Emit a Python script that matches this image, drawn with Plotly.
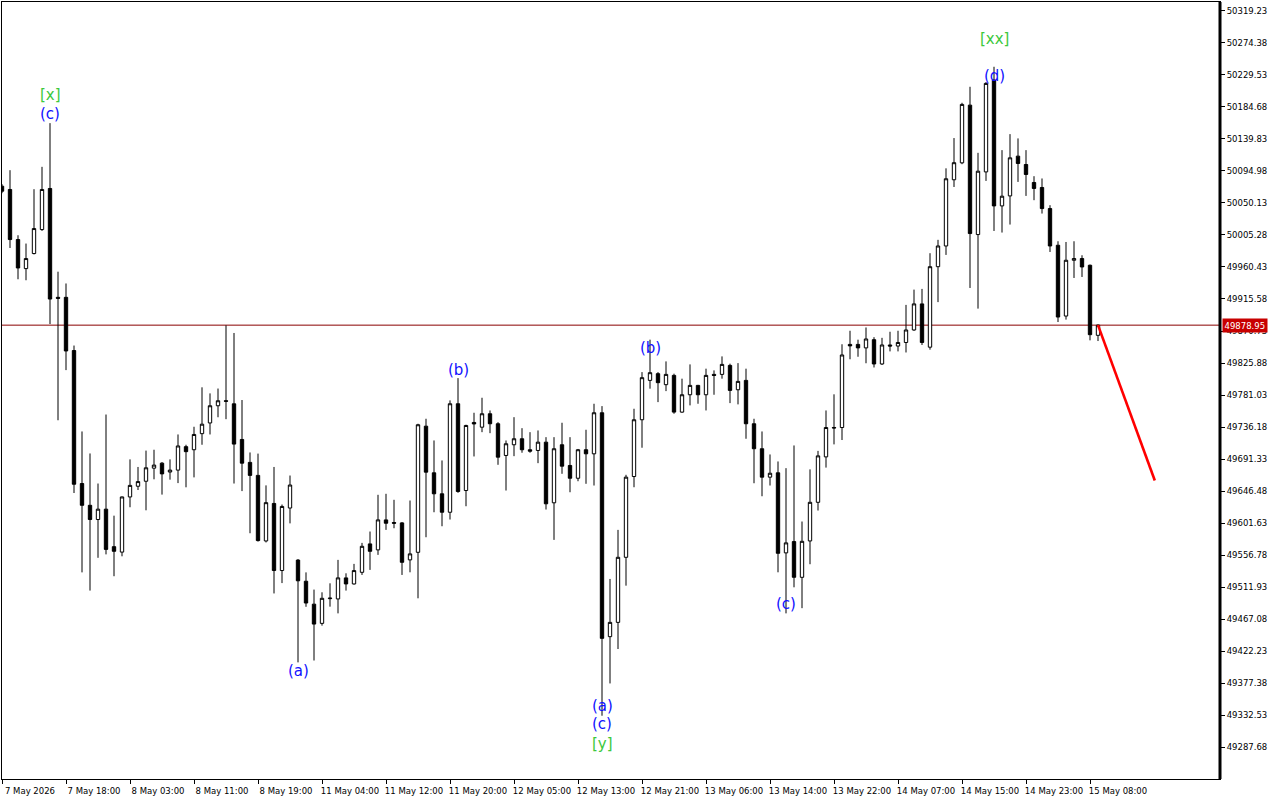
import plotly.graph_objects as go

# ---- data (hourly candles, index 0..137) ----
opens = [50073.5, 50068.9, 49998.8, 49958.1, 49979.2, 50012.8, 50070.3, 49917.9, 49917.9, 49843.4,
         49657.2, 49626.7, 49606.8, 49621.3, 49568.8, 49561.2, 49638.4, 49653.4, 49660.4, 49678.7,
         49685.7, 49673.3, 49676.0, 49708.8, 49704.5, 49727.0, 49742.0, 49766.1, 49773.1, 49768.8,
         49718.9, 49686.8, 49668.6, 49576.8, 49629.3, 49535.4, 49622.9, 49550.0, 49520.4, 49488.3,
         49461.4, 49496.0, 49495.6, 49525.1, 49516.6, 49532.9, 49572.7, 49564.3, 49606.3, 49602.6,
         49602.1, 49550.3, 49560.9, 49737.5, 49672.2, 49642.8, 49617.0, 49768.9, 49647.4, 49742.7,
         49736.1, 49754.9, 49740.9, 49696.5, 49711.5, 49719.9, 49704.5, 49703.5, 49715.1, 49630.2,
         49711.5, 49682.5, 49664.6, 49704.5, 49698.8, 49756.3, 49442.8, 49462.8, 49553.9, 49667.0,
         49746.5, 49801.6, 49811.0, 49795.6, 49808.6, 49757.2, 49781.5, 49794.6, 49781.5, 49810.0,
         49810.0, 49822.6, 49788.5, 49801.6, 49740.9, 49705.9, 49666.1, 49672.2, 49560.1, 49575.9,
         49525.9, 49576.8, 49630.9, 49694.5, 49735.7, 49735.6, 49852.0, 49852.0, 49847.1, 49858.6,
         49824.6, 49851.2, 49849.7, 49854.7, 49872.2, 49908.7, 49848.1, 49960.8, 49989.8, 50082.5,
         50106.2, 50187.0, 50005.8, 50093.5, 50222.1, 50045.9, 50059.9, 50115.6, 50103.9, 50078.7,
         50071.7, 50042.2, 49990.8, 49891.7, 49969.8, 49972.2, 49962.8, 49864.7]
highs = [50076.3, 50095.9, 50004.8, 49993.2, 50069.3, 50100.6, 50161.8, 49953.8, 49937.3, 49850.4,
         49730.1, 49699.3, 49657.2, 49753.8, 49612.2, 49639.0, 49691.0, 49680.4, 49703.3, 49704.5,
         49687.2, 49691.0, 49725.9, 49711.5, 49736.7, 49791.9, 49783.4, 49790.2, 49878.7, 49868.0,
         49774.1, 49700.7, 49699.1, 49654.6, 49680.4, 49627.8, 49668.4, 49551.4, 49532.8, 49508.7,
         49504.9, 49517.5, 49550.3, 49531.5, 49544.7, 49574.1, 49590.0, 49641.4, 49642.8, 49634.4,
         49603.3, 49633.4, 49740.9, 49747.9, 49717.5, 49689.5, 49773.6, 49804.8, 49739.5, 49756.3,
         49777.3, 49759.5, 49743.1, 49717.5, 49750.1, 49734.7, 49729.1, 49731.5, 49722.1, 49722.1,
         49742.3, 49722.1, 49705.6, 49732.5, 49768.9, 49765.6, 49523.6, 49592.3, 49669.4, 49761.9,
         49813.2, 49858.6, 49813.2, 49828.2, 49811.0, 49804.0, 49824.0, 49795.3, 49818.0, 49815.6,
         49835.2, 49825.0, 49825.8, 49818.0, 49747.9, 49730.1, 49697.9, 49688.1, 49678.7, 49710.5,
         49604.0, 49677.0, 49702.9, 49759.5, 49782.1, 49852.2, 49871.1, 49858.6, 49875.7, 49862.1,
         49861.2, 49869.7, 49871.1, 49907.3, 49928.7, 49929.7, 49979.7, 49998.4, 50098.5, 50140.9,
         50190.3, 50212.7, 50120.2, 50219.3, 50240.7, 50124.0, 50146.4, 50140.4, 50124.0, 50087.5,
         50084.3, 50046.9, 49996.4, 49995.4, 49996.4, 49976.8, 49963.8, 49879.9]
lows = [50063.7, 49987.0, 49943.2, 49941.8, 49978.0, 50010.9, 49880.5, 49745.8, 49816.0, 49643.9,
        49532.8, 49507.3, 49553.2, 49558.0, 49527.4, 49555.3, 49624.0, 49648.1, 49619.7, 49663.1,
        49641.7, 49662.6, 49657.8, 49651.9, 49665.8, 49711.5, 49725.9, 49750.0, 49747.3, 49657.2,
        49646.6, 49587.6, 49575.9, 49574.7, 49503.3, 49517.8, 49601.4, 49406.8, 49484.6, 49409.4,
        49458.2, 49484.8, 49475.4, 49507.3, 49515.7, 49529.2, 49536.3, 49557.3, 49592.3, 49594.6,
        49529.2, 49532.9, 49496.5, 49582.0, 49617.0, 49597.4, 49606.8, 49644.2, 49625.4, 49695.1,
        49729.1, 49727.7, 49683.4, 49647.4, 49695.5, 49700.3, 49700.3, 49685.7, 49620.8, 49578.3,
        49670.8, 49645.0, 49660.4, 49656.8, 49654.4, 49332.1, 49377.3, 49425.5, 49514.2, 49652.0,
        49707.3, 49790.0, 49771.2, 49786.6, 49754.9, 49756.3, 49766.6, 49768.9, 49759.5, 49781.5,
        49804.0, 49769.8, 49768.0, 49719.9, 49657.6, 49639.4, 49654.4, 49532.9, 49475.4, 49511.9,
        49482.7, 49544.2, 49619.4, 49679.5, 49712.0, 49718.1, 49831.2, 49834.7, 49825.6, 49819.7,
        49823.2, 49842.2, 49842.2, 49840.7, 49871.0, 49851.2, 49844.6, 49911.2, 49977.3, 50072.4,
        50104.3, 49931.0, 49902.1, 50080.9, 50010.8, 50008.6, 50019.8, 50079.5, 50059.9, 50053.9,
        50035.2, 49981.4, 49883.3, 49886.7, 49945.0, 49946.4, 49857.7, 49856.7]
closes = [50066.5, 49998.8, 49959.0, 49972.2, 50014.2, 50068.9, 49915.5, 49916.5, 49842.8, 49656.2,
          49626.7, 49606.8, 49621.3, 49565.0, 49562.3, 49638.4, 49654.6, 49659.9, 49679.2, 49683.0,
          49670.7, 49676.0, 49709.8, 49701.8, 49725.9, 49740.3, 49766.1, 49773.1, 49772.4, 49712.4,
          49685.7, 49668.6, 49577.3, 49630.4, 49535.4, 49625.1, 49655.1, 49521.0, 49489.9, 49460.4,
          49496.5, 49496.7, 49525.1, 49516.6, 49535.3, 49569.3, 49562.3, 49606.3, 49601.6, 49601.6,
          49546.9, 49558.7, 49739.5, 49673.1, 49642.8, 49617.0, 49768.9, 49646.0, 49738.5, 49740.6,
          49754.9, 49740.9, 49694.1, 49712.9, 49719.9, 49704.5, 49702.5, 49715.1, 49628.8, 49705.9,
          49681.5, 49664.6, 49704.5, 49698.8, 49756.3, 49440.4, 49462.8, 49553.9, 49666.1, 49746.5,
          49805.4, 49812.4, 49798.4, 49810.0, 49757.2, 49781.5, 49794.6, 49781.5, 49808.6, 49808.6,
          49824.0, 49787.6, 49800.2, 49740.9, 49705.9, 49666.1, 49671.6, 49559.5, 49574.1, 49525.9,
          49576.3, 49630.9, 49695.9, 49735.6, 49735.0, 49837.2, 49849.9, 49847.1, 49859.6, 49824.6,
          49851.2, 49849.7, 49854.7, 49872.2, 49908.7, 49854.7, 49960.8, 49989.8, 50083.9, 50106.4,
          50188.0, 50007.2, 50094.5, 50217.4, 50045.9, 50059.5, 50113.2, 50105.3, 50089.9, 50070.3,
          50042.2, 49989.8, 49890.3, 49969.8, 49972.2, 49960.4, 49865.6, 49878.95]
bars = list(range(len(opens)))

tick_positions = [0, 8, 16, 24, 32, 40, 48, 56, 64, 72, 80, 88, 96, 104, 112, 120, 128, 136]
tick_labels = ["7 May 2026", "7 May 18:00", "8 May 03:00", "8 May 11:00", "8 May 19:00",
               "11 May 04:00", "11 May 12:00", "11 May 20:00", "12 May 05:00", "12 May 13:00",
               "12 May 21:00", "13 May 06:00", "13 May 14:00", "13 May 22:00", "14 May 07:00",
               "14 May 15:00", "14 May 23:00", "15 May 08:00"]

wave_text = ["[x]", "(c)", "(a)", "(b)", "(a)", "(c)", "[y]", "(b)", "(c)", "[xx]", "(d)"]
wave_x = [6, 6, 37, 57, 75, 75, 75, 81, 98, 124, 124]
wave_y = [50201.0, 50174.4, 49395.2, 49815.6, 49346.1, 49320.9, 49292.8, 49846.5, 49489.1, 50279.6, 50227.7]
wave_kind = ["minor", "wave", "wave", "wave", "wave", "wave", "minor", "wave", "wave", "minor", "wave"]

proj_x = [137, 144.1]
proj_y = [49878.95, 49661.5]

last_price = closes[-1]
y_tick0 = 49287.68
y_dtick = 44.85

# ---- figure ----
fig = go.Figure()
fig.add_trace(go.Candlestick(
    x=bars, open=opens, high=highs, low=lows, close=closes,
    increasing=dict(line=dict(color="black", width=1), fillcolor="white"),
    decreasing=dict(line=dict(color="black", width=1), fillcolor="black"),
    whiskerwidth=0, showlegend=False, hoverinfo="skip",
))
fig.add_trace(go.Scatter(
    x=proj_x, y=proj_y, mode="lines",
    line=dict(color="#ff0000", width=2.6), showlegend=False, hoverinfo="skip",
))

colors = {"wave": "#1010ff", "minor": "#3cc83c"}
for t, xx, yy, k in zip(wave_text, wave_x, wave_y, wave_kind):
    fig.add_annotation(x=xx, y=yy, text=t, showarrow=False, xanchor="center", yanchor="middle",
                       font=dict(family="DejaVu Sans", size=15, color=colors[k]))

# current price line and tag
fig.add_shape(type="line", xref="paper", x0=0, x1=1, yref="y", y0=last_price, y1=last_price,
              line=dict(color="#8a0000", width=1), layer="below")
fig.add_annotation(xref="paper", x=1, y=last_price, yref="y", text=f"{last_price:.2f}",
                   showarrow=False, xanchor="left", yanchor="middle", xshift=2,
                   bgcolor="#c80000", borderpad=1.5,
                   font=dict(family="DejaVu Sans", size=8.5, color="white"))
# thick right axis border
fig.add_shape(type="line", xref="paper", x0=1, x1=1, yref="paper", y0=0, y1=1,
              line=dict(color="black", width=3))

fig.update_layout(
    width=1280, height=800,
    margin=dict(l=2, r=60, t=2, b=21),
    paper_bgcolor="white", plot_bgcolor="white",
    boxgap=0.4,
    font=dict(family="DejaVu Sans", size=8.5, color="black"),
    xaxis=dict(
        range=[0, 152.25], rangeslider=dict(visible=False),
        tickmode="array", tickvals=tick_positions, ticktext=tick_labels,
        ticks="outside", ticklen=4, tickcolor="black", ticklabelshift=28,
        showgrid=False, zeroline=False, showline=True, linecolor="black", linewidth=1, mirror=True,
        tickfont=dict(family="DejaVu Sans", size=8.5, color="black"),
    ),
    yaxis=dict(
        side="right", range=[49243.5, 50331.4],
        tick0=y_tick0, dtick=y_dtick, tickformat=".2f",
        ticks="outside", ticklen=4, tickcolor="black",
        showgrid=False, zeroline=False, showline=True, linecolor="black", linewidth=1, mirror=True,
        tickfont=dict(family="DejaVu Sans", size=8.5, color="black"),
    ),
)

fig.write_html("out.html", config={"displayModeBar": False},
               post_script="document.body.style.margin='0px';document.body.style.overflow='hidden';")
